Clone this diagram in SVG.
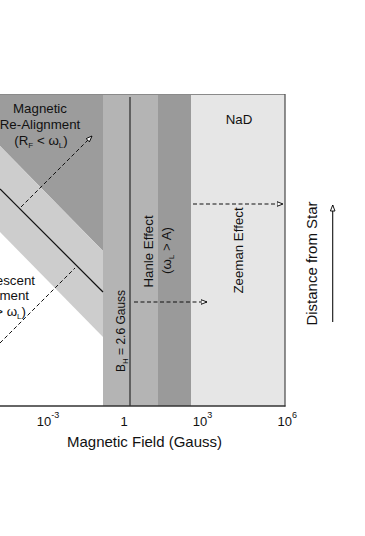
<svg xmlns="http://www.w3.org/2000/svg" width="365" height="536" viewBox="0 0 365 536">
<defs>
<marker id="ah" markerUnits="userSpaceOnUse" markerWidth="10" markerHeight="8" refX="6.5" refY="2.7" orient="auto">
<path d="M0.5,0.4 L6.5,2.7 L0.5,5 z" fill="#fff" stroke="#000" stroke-width="0.9"/>
</marker>
<style>
text{font-family:"Liberation Sans",Arial,sans-serif;fill:#111}
.lbl{font-size:13.3px}
.ax{font-size:13px}
.sup{font-size:9px}
.sub{font-size:8px}
.dash{fill:none;stroke:#111;stroke-width:1;stroke-dasharray:4 2.5}
</style>
</defs>
<rect width="365" height="536" fill="#fff"/>
<g id="regions">
<polygon id="realign-zone" points="0,94 103,94 103,251 0,146" fill="#9c9c9c"/>
<polygon id="transition-band" points="0,146 103,251 103,337 0,232" fill="#cdcdcd"/>
<rect id="hanle-band" x="103" y="94" width="55" height="312" fill="#b4b4b4"/>
<rect id="hanle-dark-band" x="158" y="94" width="33" height="312" fill="#9a9a9a"/>
<rect id="zeeman-band" x="191" y="94" width="94" height="312" fill="#e6e6e6"/>
</g>
<g id="frame">
<line x1="0" y1="94.5" x2="285" y2="94.5" stroke="#8a8a8a" stroke-width="1"/>
<line x1="285" y1="94" x2="285" y2="406.5" stroke="#555" stroke-width="1.3"/>
<line x1="0" y1="406" x2="285.5" y2="406" stroke="#333" stroke-width="1.3"/>
</g>
<g id="connectors">
<line id="boundary-diag" x1="0" y1="189" x2="103" y2="292" stroke="#111" stroke-width="1.2"/>
<line id="bh-line" x1="130" y1="97" x2="130" y2="406" stroke="#333" stroke-width="1.3"/>
<line class="dash" x1="21" y1="207" x2="92" y2="136" marker-end="url(#ah)"/>
<line class="dash" x1="0" y1="343" x2="75" y2="268"/>
<line class="dash" x1="134" y1="302" x2="207" y2="302" marker-end="url(#ah)"/>
<line class="dash" x1="193" y1="204" x2="283" y2="204" marker-end="url(#ah)"/>
<line x1="332.7" y1="322" x2="332.7" y2="205" stroke="#111" stroke-width="1.1" marker-end="url(#ah)"/>
</g>
<g id="realign-label">
<text class="lbl" x="40" y="113" text-anchor="middle">Magnetic</text>
<text class="lbl" x="40" y="129" text-anchor="middle">Re-Alignment</text>
<text class="lbl" x="41" y="145" text-anchor="middle">(R<tspan class="sub" dy="3">F</tspan><tspan dy="-3"> &lt; ω</tspan><tspan class="sub" dy="3">L</tspan><tspan dy="-3">)</tspan></text>
</g>
<g id="fluorescent-label">
<text class="lbl" x="35" y="285" text-anchor="end">escent</text>
<text class="lbl" x="29" y="300" text-anchor="end">ment</text>
<text class="lbl" x="26" y="316" text-anchor="end">&gt; ω<tspan class="sub" dy="3">L</tspan><tspan dy="-3">)</tspan></text>
</g>
<g id="bh-label">
<text transform="translate(124.5,331) rotate(-90)" font-size="12" text-anchor="middle">B<tspan class="sub" dy="3">H</tspan><tspan dy="-3"> = 2.6 Gauss</tspan></text>
</g>
<g id="hanle-label">
<text class="lbl" transform="translate(153,251.5) rotate(-90)" text-anchor="middle">Hanle Effect</text>
<text class="lbl" transform="translate(171,250.5) rotate(-90)" text-anchor="middle">(ω<tspan class="sub" dy="3">L</tspan><tspan dy="-3"> &gt; A)</tspan></text>
</g>
<g id="zeeman-label">
<text class="lbl" transform="translate(243,250.5) rotate(-90)" text-anchor="middle">Zeeman Effect</text>
</g>
<g id="nad-label">
<text class="lbl" x="239" y="124" text-anchor="middle">NaD</text>
</g>
<g id="distance-label">
<text transform="translate(316.5,263.5) rotate(-90)" font-size="15" text-anchor="middle">Distance from Star</text>
</g>
<g id="axis">
<text class="ax" x="36.7" y="426">10<tspan class="sup" dy="-8">-3</tspan></text>
<text class="ax" x="124" y="426" text-anchor="middle">1</text>
<text class="ax" x="192.7" y="426">10<tspan class="sup" dy="-8">3</tspan></text>
<text class="ax" x="277.5" y="426">10<tspan class="sup" dy="-8">6</tspan></text>
<text x="144.5" y="447" font-size="15" text-anchor="middle">Magnetic Field (Gauss)</text>
</g>
</svg>
